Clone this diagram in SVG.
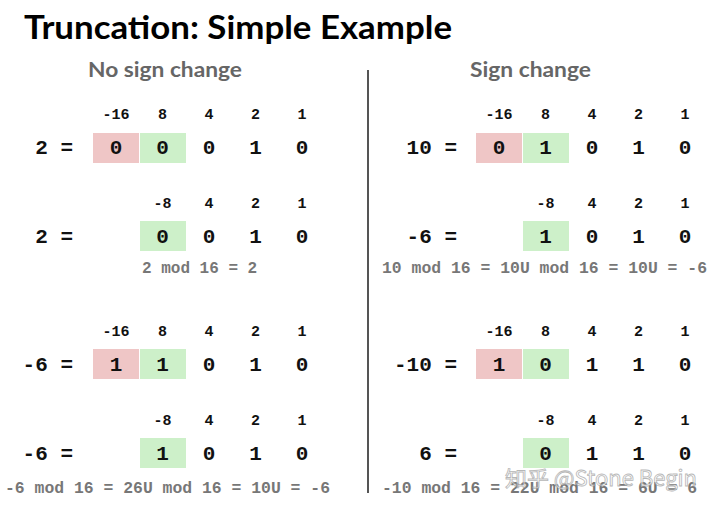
<svg xmlns="http://www.w3.org/2000/svg" width="715" height="509" viewBox="0 0 715 509">
<style>
.title{font-family:Lato,"Open Sans","Liberation Sans",sans-serif;font-weight:bold;font-size:33px;fill:#000}
.sub{font-family:Lato,"Open Sans","Liberation Sans",sans-serif;font-weight:bold;font-size:21px;fill:#666}
.w{font-family:"Liberation Mono","DejaVu Sans Mono",monospace;font-weight:bold;font-size:15px;fill:#111;text-anchor:middle}
.d{font-family:"Liberation Mono","DejaVu Sans Mono",monospace;font-weight:bold;font-size:21px;fill:#111;text-anchor:middle}
.lbl{font-family:"Liberation Mono","DejaVu Sans Mono",monospace;font-weight:bold;font-size:21px;fill:#111;text-anchor:end}
.mod{font-family:"Liberation Mono","DejaVu Sans Mono",monospace;font-weight:bold;font-size:16px;fill:#777}
.red{fill:#efc6c6}
.grn{fill:#cdf0c9}
.wm{font-family:"Noto Sans CJK SC","Noto Sans",sans-serif;font-size:21px;fill:#fff;stroke:#999;stroke-width:0.8;opacity:0.7}
</style>
<rect width="715" height="509" fill="#fff"/>
<text class="title" x="24" y="39" textLength="428" lengthAdjust="spacingAndGlyphs">Truncation: Simple Example</text>
<text class="sub" x="88" y="77" textLength="154" lengthAdjust="spacingAndGlyphs">No sign change</text>
<text class="sub" x="470" y="77" textLength="121" lengthAdjust="spacingAndGlyphs">Sign change</text>
<g id="connectors">
<line x1="368" y1="70" x2="368" y2="493" stroke="#555" stroke-width="2"/>
</g>
<g id="left-row1">
<rect class="red" x="93" y="133" width="46" height="30"/>
<rect class="grn" x="140" y="133" width="46" height="30"/>
<text class="w" x="116" y="119">-16</text><text class="w" x="162.5" y="119">8</text><text class="w" x="209" y="119">4</text><text class="w" x="255.5" y="119">2</text><text class="w" x="302" y="119">1</text>
<text class="lbl" x="73" y="154">2 =</text>
<text class="d" x="116" y="154">0</text><text class="d" x="162.5" y="154">0</text><text class="d" x="209" y="154">0</text><text class="d" x="255.5" y="154">1</text><text class="d" x="302" y="154">0</text>
</g>
<g id="left-row2">
<rect class="grn" x="140" y="221" width="46" height="30"/>
<text class="w" x="162.5" y="208">-8</text><text class="w" x="209" y="208">4</text><text class="w" x="255.5" y="208">2</text><text class="w" x="302" y="208">1</text>
<text class="lbl" x="73" y="243">2 =</text>
<text class="d" x="162.5" y="243">0</text><text class="d" x="209" y="243">0</text><text class="d" x="255.5" y="243">1</text><text class="d" x="302" y="243">0</text>
<text class="mod" x="142" y="273">2 mod 16 = 2</text>
</g>
<g id="left-row3">
<rect class="red" x="93" y="349" width="46" height="30"/>
<rect class="grn" x="140" y="349" width="46" height="30"/>
<text class="w" x="116" y="336">-16</text><text class="w" x="162.5" y="336">8</text><text class="w" x="209" y="336">4</text><text class="w" x="255.5" y="336">2</text><text class="w" x="302" y="336">1</text>
<text class="lbl" x="73" y="371">-6 =</text>
<text class="d" x="116" y="371">1</text><text class="d" x="162.5" y="371">1</text><text class="d" x="209" y="371">0</text><text class="d" x="255.5" y="371">1</text><text class="d" x="302" y="371">0</text>
</g>
<g id="left-row4">
<rect class="grn" x="140" y="438" width="46" height="30"/>
<text class="w" x="162.5" y="425">-8</text><text class="w" x="209" y="425">4</text><text class="w" x="255.5" y="425">2</text><text class="w" x="302" y="425">1</text>
<text class="lbl" x="73" y="460">-6 =</text>
<text class="d" x="162.5" y="460">1</text><text class="d" x="209" y="460">0</text><text class="d" x="255.5" y="460">1</text><text class="d" x="302" y="460">0</text>
<text class="mod" x="5" y="493" textLength="325" lengthAdjust="spacingAndGlyphs">-6 mod 16 = 26U mod 16 = 10U = -6</text>
</g>
<g id="right-row1">
<rect class="red" x="476" y="133" width="46" height="30"/>
<rect class="grn" x="523" y="133" width="46" height="30"/>
<text class="w" x="499" y="119">-16</text><text class="w" x="545.5" y="119">8</text><text class="w" x="592" y="119">4</text><text class="w" x="638.5" y="119">2</text><text class="w" x="685" y="119">1</text>
<text class="lbl" x="457" y="154">10 =</text>
<text class="d" x="499" y="154">0</text><text class="d" x="545.5" y="154">1</text><text class="d" x="592" y="154">0</text><text class="d" x="638.5" y="154">1</text><text class="d" x="685" y="154">0</text>
</g>
<g id="right-row2">
<rect class="grn" x="523" y="221" width="46" height="30"/>
<text class="w" x="545.5" y="208">-8</text><text class="w" x="592" y="208">4</text><text class="w" x="638.5" y="208">2</text><text class="w" x="685" y="208">1</text>
<text class="lbl" x="457" y="243">-6 =</text>
<text class="d" x="545.5" y="243">1</text><text class="d" x="592" y="243">0</text><text class="d" x="638.5" y="243">1</text><text class="d" x="685" y="243">0</text>
<text class="mod" x="382" y="273" textLength="325" lengthAdjust="spacingAndGlyphs">10 mod 16 = 10U mod 16 = 10U = -6</text>
</g>
<g id="right-row3">
<rect class="red" x="476" y="349" width="46" height="30"/>
<rect class="grn" x="523" y="349" width="46" height="30"/>
<text class="w" x="499" y="336">-16</text><text class="w" x="545.5" y="336">8</text><text class="w" x="592" y="336">4</text><text class="w" x="638.5" y="336">2</text><text class="w" x="685" y="336">1</text>
<text class="lbl" x="457" y="371">-10 =</text>
<text class="d" x="499" y="371">1</text><text class="d" x="545.5" y="371">0</text><text class="d" x="592" y="371">1</text><text class="d" x="638.5" y="371">1</text><text class="d" x="685" y="371">0</text>
</g>
<g id="right-row4">
<rect class="grn" x="523" y="438" width="46" height="30"/>
<text class="w" x="545.5" y="425">-8</text><text class="w" x="592" y="425">4</text><text class="w" x="638.5" y="425">2</text><text class="w" x="685" y="425">1</text>
<text class="lbl" x="457" y="460">6 =</text>
<text class="d" x="545.5" y="460">0</text><text class="d" x="592" y="460">1</text><text class="d" x="638.5" y="460">1</text><text class="d" x="685" y="460">0</text>
<text class="mod" x="382" y="493" textLength="315" lengthAdjust="spacingAndGlyphs">-10 mod 16 = 22U mod 16 = 6U = 6</text>
</g>
<text class="wm" x="505" y="486" textLength="192" lengthAdjust="spacingAndGlyphs">知乎 @Stone Begin</text>
</svg>
